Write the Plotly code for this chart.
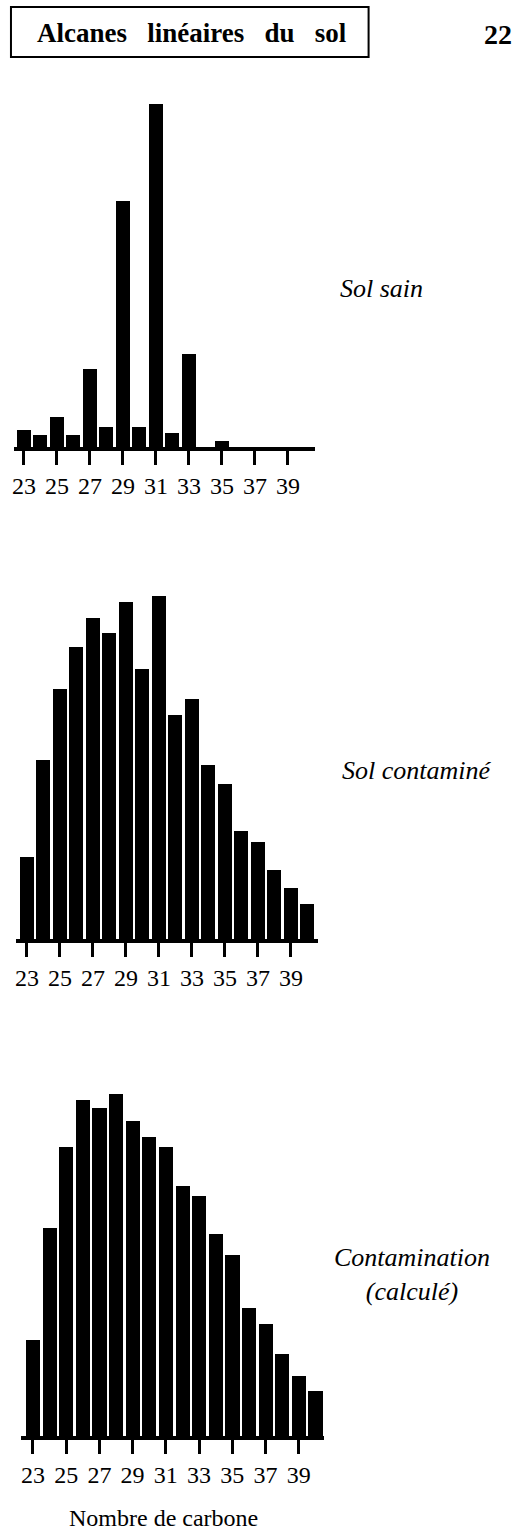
import plotly.graph_objects as go

# ---------------- data ----------------
carbons = list(range(23, 41))
tick_vals = list(range(23, 40, 2))
tick_text = [str(v) for v in tick_vals]

sol_sain = [4.9, 3.5, 8.7, 3.5, 22.6, 5.8, 71.6, 5.8, 100.0, 4.1, 27.2, 0.0, 1.7, 0.0, 0.0, 0.0, 0.0, 0.0]
sol_contamine = [23.8, 52.2, 73.0, 85.2, 93.6, 89.3, 98.3, 78.6, 100.0, 65.2, 69.9, 50.7, 45.2, 31.6, 28.4, 20.0, 14.8, 10.1]
contamination = [28.1, 60.6, 84.3, 98.0, 95.7, 99.7, 91.9, 87.2, 84.3, 72.8, 69.9, 58.8, 52.8, 37.4, 32.8, 23.8, 17.4, 13.0]

panel_labels = ["Sol sain", "Sol contaminé", "Contamination<br>(calculé)"]
title_text = "Alcanes\u00a0\u00a0 linéaires\u00a0\u00a0 du\u00a0\u00a0 sol"
page_number = "22"
x_title = "Nombre de carbone"

# ---------------- layout helpers ----------------
W, H = 521, 1532
SERIF = "Liberation Serif, Times New Roman, serif"


def fx(px):
    return px / W


def fy(px):
    return 1 - px / H


# (values, x-domain px, tick23 px, tick39 px, y bottom px, y top px, label centre px)
panels = [
    (sol_sain, (12, 314), 22, 287, 447, 104, (381, 289)),
    (sol_contamine, (14, 317), 25, 290, 939, 596, (416, 770)),
    (contamination, (19, 323), 31, 298, 1436, 1093, (412, 1274)),
]

fig = go.Figure()
annotations = []
layout_axes = {}

for i, (vals, (xd0, xd1), t23, t39, yb, yt, (lx, ly)) in enumerate(panels, start=1):
    sfx = "" if i == 1 else str(i)
    fig.add_trace(go.Bar(
        x=carbons, y=vals, width=0.85,
        marker=dict(color="black", line=dict(width=0)),
        xaxis="x" + sfx, yaxis="y" + sfx, showlegend=False,
    ))
    per_c = (t39 - t23) / 16.0
    x_range = [23 + (xd0 - t23) / per_c, 23 + (xd1 - t23) / per_c]
    layout_axes["xaxis" + sfx] = dict(
        domain=[fx(xd0), fx(xd1)], range=x_range, anchor="y" + sfx,
        showline=True, linecolor="black", linewidth=4,
        ticks="outside", ticklen=14, tickwidth=2.5, tickcolor="black",
        tickvals=tick_vals, ticktext=tick_text,
        tickfont=dict(family=SERIF, size=24, color="black"),
        showgrid=False, zeroline=False, fixedrange=True,
    )
    layout_axes["yaxis" + sfx] = dict(
        domain=[fy(yb), fy(yt)], range=[0, 100], anchor="x" + sfx,
        visible=False, showgrid=False, zeroline=False, fixedrange=True,
    )
    annotations.append(dict(
        x=fx(lx), y=fy(ly), xref="paper", yref="paper",
        text="<i>" + panel_labels[i - 1] + "</i>", showarrow=False,
        xanchor="center", yanchor="middle", align="center",
        font=dict(family=SERIF, size=26, color="black"),
    ))

annotations.append(dict(
    x=fx(191), y=fy(33), xref="paper", yref="paper",
    text="<b>" + title_text + "</b>", showarrow=False,
    xanchor="center", yanchor="middle",
    font=dict(family=SERIF, size=27, color="black"),
))
annotations.append(dict(
    x=fx(498), y=fy(35), xref="paper", yref="paper",
    text="<b>" + page_number + "</b>", showarrow=False,
    xanchor="center", yanchor="middle",
    font=dict(family=SERIF, size=28, color="black"),
))
annotations.append(dict(
    x=fx(162), y=fy(1518), xref="paper", yref="paper",
    text=x_title, showarrow=False,
    xanchor="center", yanchor="middle",
    font=dict(family=SERIF, size=24, color="black"),
))

fig.update_layout(
    width=W, height=H,
    margin=dict(l=0, r=0, t=0, b=0),
    paper_bgcolor="white", plot_bgcolor="white",
    bargap=0,
    annotations=annotations,
    shapes=[dict(
        type="rect", xref="paper", yref="paper",
        x0=fx(9), x1=fx(368), y0=fy(57), y1=fy(7),
        line=dict(color="black", width=2), fillcolor="rgba(0,0,0,0)",
    )],
    **layout_axes,
)

fig.write_html(
    "out.html",
    config={"displayModeBar": False},
    post_script="document.body.style.margin='0';document.body.style.overflow='hidden';",
)
